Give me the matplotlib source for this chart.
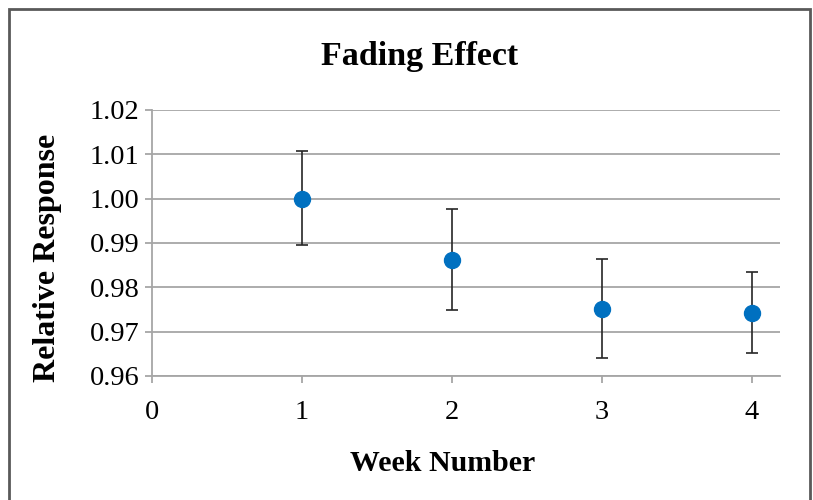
import matplotlib.pyplot as plt
from matplotlib.patches import Rectangle

weeks = [1, 2, 3, 4]
response = [1.000, 0.9862, 0.9751, 0.9743]
err_top = [1.0108, 0.9976, 0.9863, 0.9835]
err_bottom = [0.9895, 0.9749, 0.9641, 0.9651]
yticks = [0.96, 0.97, 0.98, 0.99, 1.00, 1.01, 1.02]
xticks = [0, 1, 2, 3, 4]

plt.rcParams['font.family'] = ['Liberation Serif', 'DejaVu Serif']

fig = plt.figure(figsize=(8.13, 5), dpi=100)
ax = fig.add_axes([152/813, 1-376/500, (780-152)/813, (376-110)/500])

lower = [r - b for r, b in zip(response, err_bottom)]
upper = [t - r for r, t in zip(response, err_top)]
ax.errorbar(weeks, response, yerr=[lower, upper], fmt='none', ecolor='#262626',
            elinewidth=1.2, capsize=4.5, capthick=1.2, zorder=3)
ax.plot(weeks, response, 'o', color='#0070C0', markersize=11.5, zorder=4)

ax.set_xlim(0, 4.19)
ax.set_ylim(0.96, 1.02)
ax.set_xticks(xticks)
ax.set_yticks(yticks)
ax.set_yticklabels(['%.2f' % v for v in yticks], fontsize=20.5)
ax.set_xticklabels([str(v) for v in xticks], fontsize=20.5)
ax.grid(axis='y', color='#a6a6a6', linewidth=1.3)
ax.set_axisbelow(True)
for s in ['top', 'right']:
    ax.spines[s].set_visible(False)
for s in ['left', 'bottom']:
    ax.spines[s].set_color('#a6a6a6')
    ax.spines[s].set_linewidth(1.3)
ax.tick_params(axis='y', length=5, width=1.3, color='#a6a6a6', pad=4)
ax.tick_params(axis='x', length=5, width=1.3, color='#a6a6a6', pad=12)

ax.set_xlabel('Week Number', fontsize=21.5, fontweight='bold', va='center')
ax.xaxis.set_label_coords(0.462, -0.33)
ax.set_ylabel('Relative Response', fontsize=23, fontweight='bold', va='center')
ax.yaxis.set_label_coords(-0.167, 0.445)
fig.text(0.516, 0.888, 'Fading Effect', fontsize=24.5, fontweight='bold',
         ha='center', va='center')

fig.patches.append(Rectangle((9/813, -0.1), (810-9)/813, 1.1 - 9/500,
                             transform=fig.transFigure, fill=False,
                             edgecolor='#595959', linewidth=2))

fig.savefig('out.png', dpi=100)
